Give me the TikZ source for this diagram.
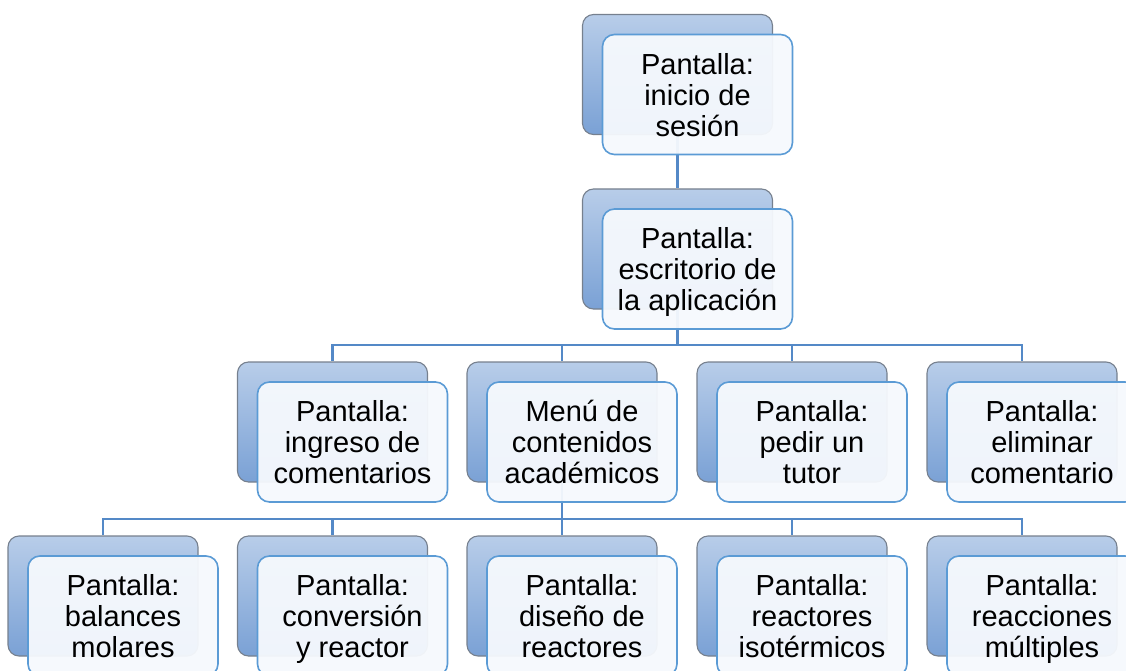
\documentclass[tikz,border=0pt]{standalone}
\usepackage{fontspec}
\setmainfont{Liberation Sans}
\usetikzlibrary{backgrounds}

\definecolor{azulclaro}{RGB}{184,205,233}
\definecolor{azuloscuro}{RGB}{122,161,213}
\definecolor{bordegris}{RGB}{118,128,142}
\definecolor{azulborde}{RGB}{91,155,213}
\definecolor{azullinea}{RGB}{84,137,199}
\definecolor{blanco}{RGB}{246,249,253}

\begin{document}
\begin{tikzpicture}[x=1pt,y=-1pt]
        \tikzset{fondo/.style={rounded corners=11pt,minimum width=190pt,minimum height=120pt,
                top color=azulclaro,bottom color=azuloscuro,draw=bordegris,line width=1.1pt},
            frente/.style={rounded corners=12pt,minimum width=190pt,minimum height=120pt,
                fill=blanco,fill opacity=0.95,text opacity=1,draw=azulborde,line width=1.6pt,
                align=center,text depth=0pt,font=\fontsize{29}{31}\selectfont},
            conector/.style={draw=azullinea,line width=2.6pt}}
        \clip (0,0) rectangle (1126,671);
        % cajas de fondo
        \foreach \n/\x/\y in {inicio/677.5/74.5,escritorio/677.5/249,
                ingreso/332.5/422,menu/562/422,tutor/792/422,eliminar/1022/422,
                balances/103/596,conversion/332.5/596,diseno/562/596,isotermicos/792/596,multiples/1022/596}
            \node[fondo] (\n) at (\x,\y) {};
        % cajas con texto
        \foreach \n/\t in {inicio/{Pantalla:\\inicio de\\sesión},
                escritorio/{Pantalla:\\escritorio de\\la aplicación},
                ingreso/{Pantalla:\\ingreso de\\comentarios},
                menu/{Menú de\\contenidos\\académicos},
                tutor/{Pantalla:\\pedir un\\tutor},
                eliminar/{Pantalla:\\eliminar\\comentario},
                balances/{Pantalla:\\balances\\molares},
                conversion/{Pantalla:\\conversión\\y reactor},
                diseno/{Pantalla:\\diseño de\\reactores},
                isotermicos/{Pantalla:\\reactores\\isotérmicos},
                multiples/{Pantalla:\\reacciones\\múltiples}}
            \node[frente] (\n-t) at ([shift={(20,20)}]\n.center) {\t};
        % conectores
        \coordinate (barra1) at (0,345);
        \coordinate (barra2) at (0,519);
        \begin{pgfonlayer}{background}
            \draw[conector] (inicio.center) -- (escritorio.north);
            \foreach \h in {ingreso,menu,tutor,eliminar}
                \draw[conector] (escritorio.center) |- (barra1 -| \h) -- (\h.north);
            \foreach \h in {balances,conversion,diseno,isotermicos,multiples}
                \draw[conector] (menu.center) |- (barra2 -| \h) -- (\h.north);
        \end{pgfonlayer}
    \end{tikzpicture}
\end{document}
